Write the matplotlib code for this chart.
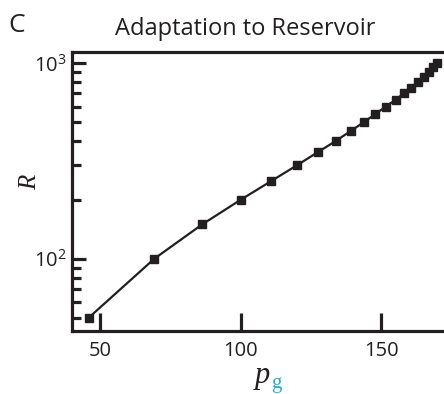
import numpy as np
import matplotlib
matplotlib.use('Agg')
import matplotlib.pyplot as plt
from matplotlib.ticker import LogLocator, NullFormatter

plt.rcParams['font.family'] = ['Open Sans', 'DejaVu Sans']
plt.rcParams['mathtext.fontset'] = 'custom'
plt.rcParams['mathtext.rm'] = 'Open Sans'
plt.rcParams['mathtext.it'] = 'Open Sans:italic'

# reservoir size vs adapted p_g
pg = [46, 69.3, 86.4, 100, 111, 120, 127.4, 133.9, 139.2, 144,
      148, 151.7, 155.2, 158.1, 160.6, 163.1, 165.2, 167, 168.6, 170]
R = [50, 100, 150, 200, 250, 300, 350, 400, 450, 500,
     550, 600, 650, 700, 750, 800, 850, 900, 950, 1000]

ink = '#231f20'

fig = plt.figure(figsize=(4.44, 3.94), dpi=100)
ax = fig.add_axes([72/444, 1 - 331/394, 1 - 72/444, (331 - 52)/394])

ax.plot(pg, R, '-s', color=ink, lw=1.6, ms=5.5, mfc=ink, mec=ink)

ax.set_yscale('log')
ax.set_xlim(40, 172.4)
ax.set_ylim(42.7, 1140)
ax.set_xticks([50, 100, 150])
ax.yaxis.set_major_locator(LogLocator(base=10, numticks=10))
ax.yaxis.set_minor_locator(LogLocator(base=10, subs=np.arange(2, 10), numticks=10))
ax.yaxis.set_minor_formatter(NullFormatter())

for s in ['left', 'top', 'bottom']:
    ax.spines[s].set_linewidth(2.3)
    ax.spines[s].set_color(ink)
ax.spines['right'].set_visible(False)

ax.tick_params(axis='both', which='major', direction='in', length=10, width=2.3,
               color=ink, labelsize=14.5, labelcolor=ink, pad=5)
ax.tick_params(axis='y', which='minor', direction='in', length=6.5, width=2.3, color=ink)
ax.tick_params(axis='x', which='major', length=13, pad=7)
ax.tick_params(axis='y', which='major', pad=4)

ax.set_title('Adaptation to Reservoir', fontsize=17, color=ink, pad=12, x=0.465)
fig.text(8/444, 1 - 32/394, 'C', fontsize=19, color=ink, va='baseline')

ax.text(-0.113, 0.534, 'R', transform=ax.transAxes, rotation=90, fontsize=18,
        family='Liberation Serif', style='italic', color=ink, ha='center', va='center')
ax.text(0.532, -0.186, 'p', transform=ax.transAxes, fontsize=22,
        family='Liberation Serif', style='italic', color=ink, ha='right', va='baseline')
ax.text(0.535, -0.204, 'g', transform=ax.transAxes, fontsize=15,
        family='Liberation Serif', color='#29abe2', ha='left', va='baseline')

fig.savefig('out.png', dpi=100)
